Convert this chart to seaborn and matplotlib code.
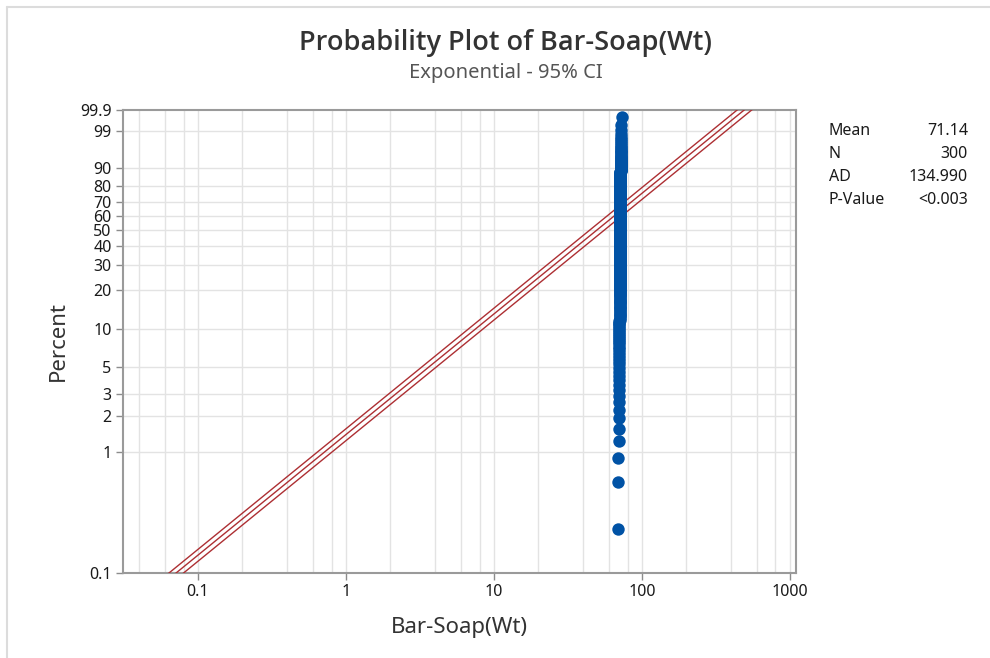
import numpy as np
import pandas as pd
import matplotlib
matplotlib.use("Agg")
import matplotlib.pyplot as plt
import seaborn as sns
from matplotlib.lines import Line2D

# ---- data ----
weight_values = [69.3, 69.5, 69.7, 69.9, 70.1, 70.3, 70.5, 70.7, 70.9, 71.1,
                 71.3, 71.6, 71.8, 72.0, 72.3, 72.6, 73.0]
weight_counts = [1, 2, 3, 4, 6, 8, 11, 15, 50, 70, 60, 35, 20, 5, 5, 4, 1]

stat_labels = ["Mean", "N", "AD", "P-Value"]
stat_values = ["71.14", "300", "134.990", "<0.003"]
fit_mean = 71.14
conf_level = 0.95

y_tick_pcts = [0.1, 1, 2, 3, 5, 10, 20, 30, 40, 50, 60, 70, 80, 90, 99, 99.9]
y_tick_text = ["0.1", "1", "2", "3", "5", "10", "20", "30", "40", "50",
               "60", "70", "80", "90", "99", "99.9"]
x_tick_vals = [0.1, 1, 10, 100, 1000]
x_tick_text = ["0.1", "1", "10", "100", "1000"]

# ---- helpers ----
def ytrans(p):
    p = np.asarray(p, dtype=float)
    return np.log10(-np.log(1.0 - p))

font = "Noto Sans"
sns.set_theme(style="white")
plt.rcParams["font.family"] = [font, "DejaVu Sans"]

weights = np.sort(np.repeat(weight_values, weight_counts))
n = len(weights)
ranks = np.arange(1, n + 1)
pp = (ranks - 0.3) / (n + 0.4)
df = pd.DataFrame({"x": weights, "y": ytrans(pp)})

# CI for exponential mean (chi-square via Wilson-Hilferty)
z = 1.959964
k = 2 * n
def chi2_q(zz):
    return k * (1 - 2 / (9 * k) + zz * np.sqrt(2 / (9 * k))) ** 3
theta_lo = 2 * n * fit_mean / chi2_q(z)
theta_hi = 2 * n * fit_mean / chi2_q(-z)

p_line = np.array([0.0003, 0.9997])
q_line = -np.log(1 - p_line)
line_rows = []
for name, th in [("lo", theta_lo), ("fit", fit_mean), ("hi", theta_hi)]:
    for pv, qv in zip(p_line, q_line):
        line_rows.append({"band": name, "x": th * qv, "y": ytrans(pv)})
ldf = pd.DataFrame(line_rows)

fig = plt.figure(figsize=(9.9, 6.58), dpi=100)
ax = fig.add_axes([0.1239, 0.1292, 0.6801, 0.7036])

ax.set_xscale("log")
xmin, xmax = 0.031, 1100
ax.set_xlim(xmin, xmax)
ax.set_ylim(ytrans(0.001), ytrans(0.999))

# grid
grid_col = "#e3e3e3"
for dec in [0.01, 0.1, 1, 10, 100, 1000]:
    for m in [1, 2, 4, 6, 8]:
        v = dec * m
        if xmin < v < xmax:
            ax.axvline(v, color=grid_col, lw=1.0, zorder=0)
for yp in y_tick_pcts[1:-1]:
    ax.axhline(ytrans(yp / 100), color=grid_col, lw=1.0, zorder=0)

line_col = "#ad2f33"
sns.lineplot(data=ldf, x="x", y="y", units="band", estimator=None, sort=False,
             color=line_col, lw=1.0, ax=ax, legend=False, zorder=3)

sns.scatterplot(data=df, x="x", y="y", color="#0052a5", s=80, edgecolor="#0052a5",
                linewidth=0, ax=ax, legend=False, zorder=4)

ax.set_yticks(ytrans(np.array(y_tick_pcts) / 100))
ax.set_yticklabels(y_tick_text)
ax.set_xticks(x_tick_vals)
ax.set_xticklabels(x_tick_text)
ax.xaxis.set_minor_locator(matplotlib.ticker.NullLocator())
ax.tick_params(axis="both", which="major", direction="out", length=5, width=1,
               color="#8c8c8c", labelsize=11.5, labelcolor="#1a1a1a", pad=3,
               bottom=True, left=True)
for s in ax.spines.values():
    s.set_color("#9a9a9a")
    s.set_linewidth(1.5)
ax.set_xlabel("Bar-Soap(Wt)", fontsize=16, color="#333333", labelpad=12)
ax.set_ylabel("Percent", fontsize=16, color="#333333", labelpad=8)

fig.text(0.5105, 0.934, "Probability Plot of Bar-Soap(Wt)", ha="center", va="center",
         fontsize=19.5, color="#333333", fontweight="semibold",
         family=["Open Sans", "Noto Sans", "DejaVu Sans"])
fig.text(0.5105, 0.889, "Exponential - 95% CI", ha="center", va="center",
         fontsize=14.5, color="#555555")

for i, (lab, val) in enumerate(zip(stat_labels, stat_values)):
    yy = 1 - (131 + i * 23) / 658
    fig.text(829 / 990, yy, lab, ha="left", va="center", fontsize=11.5, color="#1a1a1a")
    fig.text(968 / 990, yy, val, ha="right", va="center", fontsize=11.5, color="#1a1a1a")

# light frame at top and left
fig.add_artist(Line2D([6.5 / 990, 1], [1 - 6.5 / 658] * 2, color="#dcdcdc", lw=1.5))
fig.add_artist(Line2D([6.5 / 990] * 2, [0, 1 - 6.5 / 658], color="#dcdcdc", lw=1.5))

fig.savefig("out.png", dpi=100)
